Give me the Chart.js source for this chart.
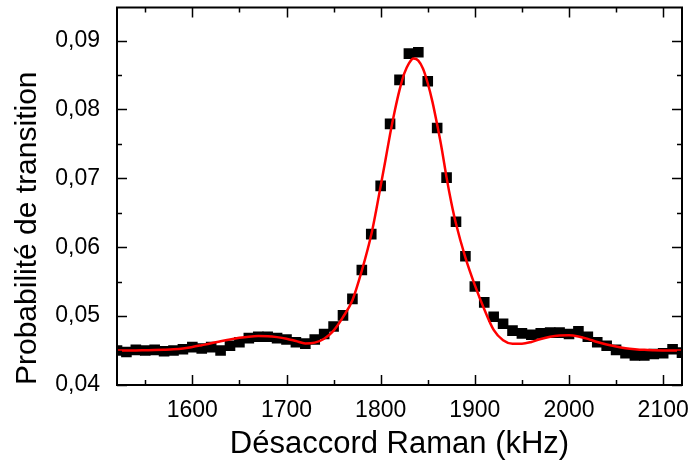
<!DOCTYPE html>
<html lang="fr">
<head>
<meta charset="utf-8">
<title>Probabilité de transition – désaccord Raman</title>
<script src="https://cdn.jsdelivr.net/npm/chart.js@4/dist/chart.umd.min.js"></script>
<style>
  html, body { margin: 0; padding: 0; background: #fff; }
  #wrap { width: 691px; height: 463px; }
</style>
</head>
<body>
<div id="wrap"><canvas id="chart" width="691" height="463"></canvas></div>
<script>
const detuning = [
  1520, 1530, 1540, 1550, 1560, 1570, 1580, 1590, 1600, 1610,
  1620, 1630, 1640, 1650, 1660, 1670, 1680, 1690, 1700, 1710,
  1720, 1730, 1740, 1750, 1760, 1770, 1780, 1790, 1800, 1810,
  1820, 1830, 1840, 1850, 1860, 1870, 1880, 1890, 1900, 1910,
  1920, 1930, 1940, 1950, 1960, 1970, 1980, 1990, 2000, 2010,
  2020, 2030, 2040, 2050, 2060, 2070, 2080, 2090, 2100, 2110, 2120,
];
const probability = [
  0.0450, 0.0448, 0.0451, 0.0450, 0.0451, 0.0449, 0.0450, 0.0452, 0.0455, 0.0453,
  0.0455, 0.0450, 0.0457, 0.0462, 0.0468, 0.0470, 0.0470, 0.0468, 0.0466, 0.0462,
  0.0460, 0.0466, 0.0474, 0.0485, 0.0501, 0.0525, 0.0567, 0.0619, 0.0689, 0.0779,
  0.0843, 0.0881, 0.0883, 0.0841, 0.0773, 0.0701, 0.0637, 0.0587, 0.0543, 0.0520,
  0.0499, 0.0489, 0.0479, 0.0475, 0.0473, 0.0475, 0.0476, 0.0476, 0.0474, 0.0478,
  0.0470, 0.0462, 0.0457, 0.0451, 0.0446, 0.0443, 0.0443, 0.0445, 0.0446, 0.0452, 0.0447,
];

// Fitted curve (red), sampled off the figure.
const fitDetuning = [
  1520, 1530, 1540, 1550, 1560, 1570, 1580, 1590, 1600, 1610,
  1620, 1630, 1640, 1650, 1660, 1670, 1680, 1690, 1700, 1710,
  1720, 1730, 1740, 1750, 1760, 1770, 1780, 1790, 1795, 1800,
  1805, 1810, 1815, 1820, 1825, 1830, 1835, 1840, 1845, 1850,
  1855, 1860, 1865, 1870, 1875, 1880, 1890, 1900, 1910, 1920,
  1930, 1940, 1950, 1960, 1970, 1980, 1990, 2000, 2010, 2020,
  2030, 2040, 2050, 2060, 2070, 2080, 2090, 2100, 2110, 2120,
];
const fitProbability = [
  0.04500, 0.04500, 0.04502, 0.04505, 0.04508, 0.04512, 0.04518, 0.04530, 0.04552, 0.04578,
  0.04605, 0.04635, 0.04662, 0.04685, 0.04702, 0.04710, 0.04708, 0.04695, 0.04672, 0.04638,
  0.04603, 0.04615, 0.04672, 0.04790, 0.04985, 0.05230, 0.05660, 0.06180, 0.06520, 0.06890,
  0.07260, 0.07640, 0.07980, 0.08280, 0.08520, 0.08670, 0.08740, 0.08710, 0.08590, 0.08380,
  0.08110, 0.07780, 0.07420, 0.07010, 0.06650, 0.06340, 0.05850, 0.05450, 0.05100, 0.04800,
  0.04650, 0.04600, 0.04600, 0.04625, 0.04668, 0.04700, 0.04718, 0.04722, 0.04705, 0.04670,
  0.04625, 0.04588, 0.04558, 0.04535, 0.04520, 0.04510, 0.04505, 0.04502, 0.04500, 0.04500,
];

// Axis ticks
const xTicks = [1600, 1700, 1800, 1900, 2000, 2100];
const xMinorTicks = [1550, 1650, 1750, 1850, 1950, 2050];
const yTicks = [0.04, 0.05, 0.06, 0.07, 0.08, 0.09];
const yTickLabels = ["0,04", "0,05", "0,06", "0,07", "0,08", "0,09"];
const yMinorTicks = [0.045, 0.055, 0.065, 0.075, 0.085];

const FONT = "'Liberation Sans', Arial, Helvetica, sans-serif";
Chart.defaults.font.family = FONT;
Chart.defaults.color = "#000";

// Origin-style closed frame with inward ticks on all four sides.
const frameTicks = {
  id: "frameTicks",
  afterDraw(chart) {
    const { ctx, chartArea: a, scales: { x, y } } = chart;
    ctx.save();
    ctx.strokeStyle = "#000";
    ctx.lineWidth = 1.5;
    ctx.beginPath();
    const xt = (vals, len) => vals.forEach(v => {
      const px = Math.round(x.getPixelForValue(v)) + 0.5;
      ctx.moveTo(px, a.bottom); ctx.lineTo(px, a.bottom - len);
      ctx.moveTo(px, a.top);    ctx.lineTo(px, a.top + len);
    });
    const yt = (vals, len) => vals.forEach(v => {
      const py = Math.round(y.getPixelForValue(v)) + 0.5;
      ctx.moveTo(a.left, py);  ctx.lineTo(a.left + len, py);
      ctx.moveTo(a.right, py); ctx.lineTo(a.right - len, py);
    });
    xt(xTicks, 10); xt(xMinorTicks, 5);
    yt(yTicks, 10); yt(yMinorTicks, 5);
    ctx.stroke();
    ctx.lineWidth = 2;
    ctx.strokeRect(a.left, a.top, a.right - a.left, a.bottom - a.top);
    ctx.restore();
  },
};

// no extra room for half tick labels at the ends of the axes
const noEdgePadding = s => {
  s.paddingTop = 0; s.paddingBottom = 0; s.paddingLeft = 0; s.paddingRight = 0;
};

new Chart(document.getElementById("chart"), {
  type: "scatter",
  data: {
    datasets: [
      {
        type: "line",
        label: "Ajustement",
        data: fitDetuning.map((d, i) => ({ x: d, y: fitProbability[i] })),
        borderColor: "#ff0000",
        borderWidth: 2.5,
        pointRadius: 0,
        cubicInterpolationMode: "monotone",
        fill: false,
        order: 0,
        clip: 0,
      },
      {
        label: "Mesures",
        data: detuning.map((d, i) => ({ x: d, y: probability[i] })),
        pointStyle: "rect",
        pointRadius: 7.5,
        backgroundColor: "#000",
        borderWidth: 0,
        order: 1,
        clip: 0,
      },
    ],
  },
  options: {
    responsive: false,
    animation: false,
    layout: { padding: { top: 5, right: 9, left: 0, bottom: 0 } },
    plugins: { legend: { display: false }, tooltip: { enabled: false } },
    scales: {
      x: {
        type: "linear", min: 1520, max: 2120,
        afterBuildTicks: s => { s.ticks = xTicks.map(v => ({ value: v })); },
        afterFit: s => { s.height = 78; noEdgePadding(s); },
        grid: { display: false, drawTicks: false },
        border: { display: false },
        ticks: { color: "#000", font: { size: 23 }, padding: 12, maxRotation: 0,
                 callback: v => String(v) },
        title: { display: true, text: "Désaccord Raman (kHz)", color: "#000",
                 font: { size: 31 }, padding: { top: 0, bottom: 0 } },
      },
      y: {
        type: "linear", min: 0.04, max: 0.0948,
        afterBuildTicks: s => { s.ticks = yTicks.map(v => ({ value: v })); },
        afterFit: s => { s.width = 117; noEdgePadding(s); },
        grid: { display: false, drawTicks: false },
        border: { display: false },
        ticks: { color: "#000", font: { size: 23 }, padding: 17,
                 callback: (v, i) => yTickLabels[i] },
        title: { display: true, text: "Probabilité de transition", color: "#000",
                 align: "start", font: { size: 30 }, padding: { top: 10, bottom: 0 } },
      },
    },
  },
  plugins: [frameTicks],
});
</script>
</body>
</html>
